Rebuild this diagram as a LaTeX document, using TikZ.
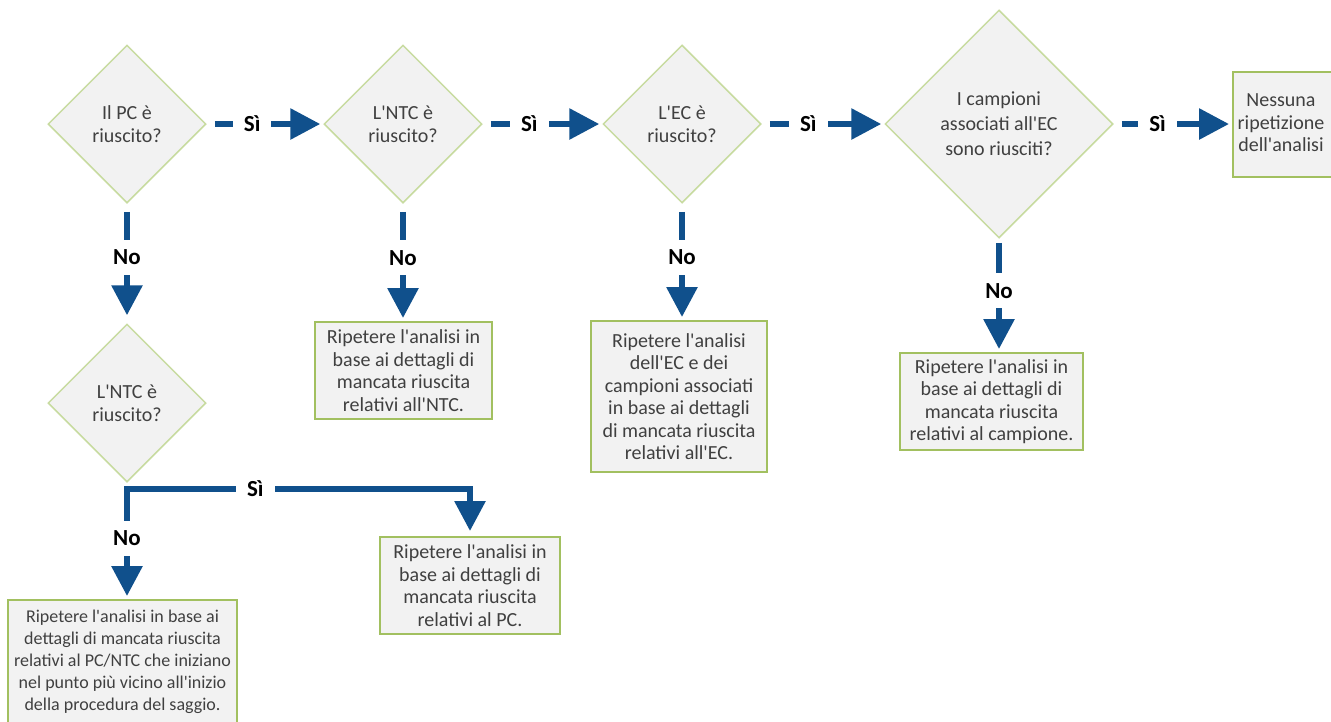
\documentclass[tikz,border=0pt]{standalone}
\usepackage{fontspec}
\setmainfont{Carlito}[Ligatures=TeXOff]
\usetikzlibrary{shapes.geometric,arrows.meta}
\definecolor{arrowblue}{RGB}{16,80,140}
\definecolor{boxfill}{HTML}{F2F2F2}
\definecolor{boxborder}{HTML}{A2C060}
\definecolor{diaborder}{HTML}{C8DBA0}
\definecolor{textgray}{HTML}{404040}
\begin{document}
\begin{tikzpicture}[x=1pt,y=-1pt,
  dia/.style={diamond, draw=diaborder, line width=1.5pt, fill=boxfill, inner sep=0pt,
    minimum width=158pt, minimum height=158pt, align=center, text=textgray,
    font=\fontsize{20}{23}\selectfont},
  box/.style={rectangle, draw=boxborder, line width=2pt, fill=boxfill, inner sep=0pt,
    align=center, text=textgray, font=\fontsize{20}{22.5}\selectfont},
  conn/.style={draw=arrowblue, line width=6pt, -{Triangle[width=30pt,length=30pt]},
    shorten <=8pt, shorten >=3pt},
  lab/.style={fill=white, text=black, font=\bfseries\fontsize{23}{26}\selectfont,
    inner xsep=11pt, inner ysep=10pt}]
\useasboundingbox (0,0) rectangle (1331,721);
\clip (0,0) rectangle (1331,721);
\fill[white] (0,0) rectangle (1331,721);

% decisions
\node[dia] (d1) at (127,124) {Il PC è\\riuscito?};
\node[dia] (d2) at (403,124) {L'NTC è\\riuscito?};
\node[dia] (d3) at (682,124) {L'EC è\\riuscito?};
\node[dia, minimum width=228pt, minimum height=228pt, font=\fontsize{20}{25}\selectfont]
  (d4) at (999,124) {I campioni\\associati all'EC\\sono riusciti?};
\node[dia] (d5) at (127,403) {L'NTC è\\riuscito?};

% outcome boxes
\node[box, minimum width=120pt, minimum height=105pt] (nes) at (1293,124.5)
  {\begin{tabular}{@{}c@{}}Nessuna\\ripetizione\\dell'analisi\end{tabular}\hspace*{24pt}};
\node[box, minimum width=177pt, minimum height=97pt] (ntc) at (403.5,370.5)
  {Ripetere l'analisi in\\base ai dettagli di\\mancata riuscita\\relativi all'NTC.};
\node[box, minimum width=176pt, minimum height=151pt] (ec) at (679,396.5)
  {Ripetere l'analisi\\dell'EC e dei\\campioni associati\\in base ai dettagli\\di mancata riuscita\\relativi all'EC.};
\node[box, minimum width=183pt, minimum height=97pt] (camp) at (991.5,401.5)
  {Ripetere l'analisi in\\base ai dettagli di\\mancata riuscita\\relativi al campione.};
\node[box, minimum width=180pt, minimum height=97pt] (pc) at (470,585.5)
  {Ripetere l'analisi in\\base ai dettagli di\\mancata riuscita\\relativi al PC.};
\node[box, minimum width=229pt, minimum height=124pt, font=\fontsize{18}{22}\selectfont]
  (bl) at (122.5,662)
  {Ripetere l'analisi in base ai\\dettagli di mancata riuscita\\relativi al PC/NTC che iniziano\\nel punto più vicino all'inizio\\della procedura del saggio.};

% yes connectors
\draw[conn] (d1.east) -- node[lab,pos=0.39]{Sì} (d2.west);
\draw[conn] (d2.east) -- node[lab,pos=0.39]{Sì} (d3.west);
\draw[conn] (d3.east) -- node[lab,pos=0.38]{Sì} (d4.west);
\draw[conn] (d4.east) -- node[lab,pos=0.37]{Sì} (d4.east -| nes.west);

% no connectors
\draw[conn, shorten >=8pt] (d1.south) -- node[lab,pos=0.45]{No} (d5.north);
\draw[conn] (d2.south) -- node[lab,pos=0.46]{No} (d2.south |- ntc.north);
\draw[conn] (d3.south) -- node[lab,pos=0.46]{No} (d3.south |- ec.north);
\draw[conn, shorten <=4pt] (d4.south) -- node[lab,pos=0.46]{No} (d4.south |- camp.north);

% split below lower NTC decision
\coordinate (split) at ([yshift=-6pt]d5.south);
\draw[conn, shorten <=0pt, line cap=rect] (split) -- node[lab,pos=0.45]{No} (split |- bl.north);
\draw[conn, shorten <=0pt, shorten >=5pt, line cap=rect] (split) -| node[lab,pos=0.187]{Sì} (pc.north);
\end{tikzpicture}
\end{document}
